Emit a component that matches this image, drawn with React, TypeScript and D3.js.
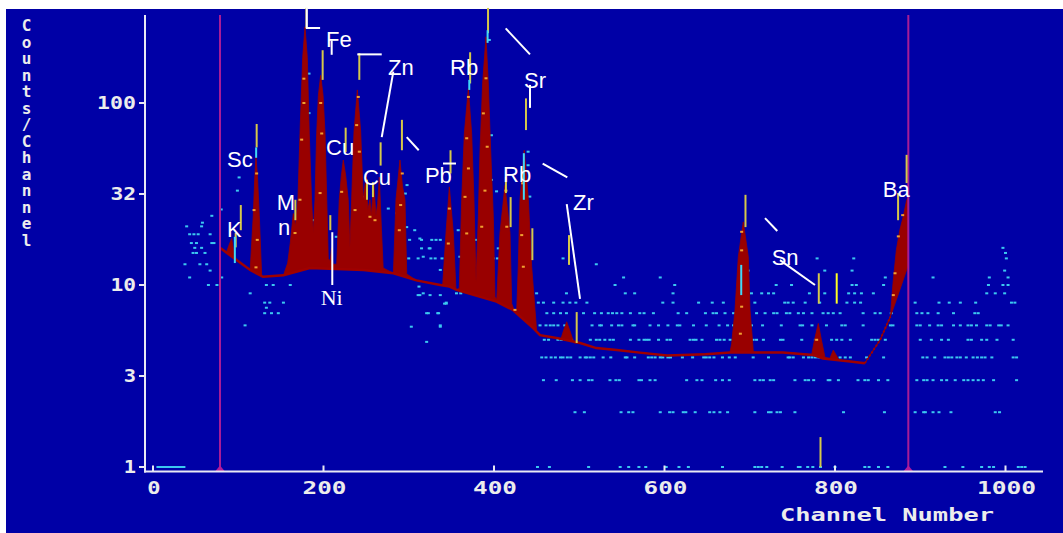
import React from 'react';
import * as d3 from 'd3';

type P = [number, number];

// ---------- axes ----------
const xTickValues = [0, 200, 400, 600, 800, 1000];
const xTickLabels = ['0', '200', '400', '600', '800', '1000'];
const yTickValues = [1, 3.1623, 10, 31.623, 100];
const yTickLabels = ['1', '3', '10', '32', '100'];
const yTitle = 'Counts/Channel';
const xTitle = 'Channel Number';

// ---------- region of interest markers (channels) ----------
const roiChannels = [78.6, 886];

// ---------- fitted spectrum (channel, counts) ----------
const spectrumTop: P[] = [
  [78.6, 16.0], [86, 15.0], [89, 16.5], [92.3, 18.0], [95, 15.0], [98, 13.7],
  [114, 12.1], [117.6, 24], [119.5, 40], [120.8, 50.7], [122.5, 40], [124.7, 24], [127.5, 11.2],
  [129, 11.1], [153, 11.3], [158, 13.2], [161, 17], [164.6, 24.7], [167, 21], [170, 29.4],
  [172.4, 68], [175.6, 178], [178.3, 262], [181, 178], [183.3, 68], [186, 29.4], [188, 19.3],
  [190, 29.4], [192, 68], [194, 110], [196.7, 142], [199.5, 110], [201.8, 68], [203.8, 29.4],
  [205.6, 14], [208, 13.5], [209.5, 16], [211, 13], [215.5, 13], [218.5, 29.4], [221, 40],
  [223.2, 48.6], [226, 40], [229, 29.4], [231, 16], [233, 29.4], [235.8, 70], [239.7, 118],
  [243.6, 70], [246.7, 29.4], [249.9, 39.2], [252, 26], [254.5, 29.4], [256, 24], [259, 36.3],
  [261.5, 24], [263.5, 28], [265.5, 39.2], [268, 20], [270, 12.4], [282, 11.6], [285, 29.4],
  [289.7, 48.6], [292.6, 35], [295.6, 29.4], [297.6, 11.5], [309, 10.6], [337, 10.0],
  [339.8, 10.0], [343.7, 19.3], [347.6, 34.6], [352.3, 19.3], [355.4, 9.4], [359.3, 9.6],
  [362.1, 29.4], [365.2, 68], [369.9, 120], [373.8, 68], [376.5, 29.4], [378.9, 10.5],
  [381.6, 23.7], [383.6, 55], [386.7, 129], [390.6, 231], [393.3, 129], [396.1, 55],
  [399.2, 23.7], [401.2, 8.6], [403.2, 8.3], [407, 19.3], [412.9, 35.3], [418.8, 19.3],
  [420.8, 7.9], [424, 7.2], [426.6, 7.2], [428.5, 12.6], [430.5, 29.4], [435.5, 55],
  [440.3, 29.4], [444.2, 12.6], [450, 5.6], [454, 5.3], [475, 5.1], [478.2, 5.0], [481.5, 5.6],
  [485.3, 6.28], [489, 5.6], [493.8, 4.8], [501, 4.8], [520, 4.5], [544, 4.4], [571, 4.25],
  [603, 4.1], [648, 4.17], [676.8, 4.26], [678.8, 4.77], [682.7, 7.3], [686.6, 14.3],
  [692.4, 22.2], [698.3, 14.3], [700.3, 7.3], [703.5, 4.77], [704.2, 4.26], [739, 4.26],
  [772.7, 4.15], [776, 5.0], [780.4, 6.15], [784, 5.0], [788.3, 4.0], [794, 3.95], [798, 4.39],
  [805, 3.85], [818, 3.8], [835, 3.72], [853, 5.0], [865, 6.7], [868, 10.2], [872, 15.6],
  [876, 20], [880, 23.7], [884, 29.2], [886, 30.5],
];

// ---------- continuum background (channel, counts) ----------
const background: P[] = [
  [78.6, 16.0], [98, 13.7], [114, 12.1], [129, 11.1], [153, 11.3], [184, 12.4], [247, 12.1],
  [282, 11.6], [309, 10.6], [337, 10.0], [348, 9.8], [356, 9.4], [403, 8.1], [422, 7.3],
  [446, 5.8], [454, 5.3], [475, 5.1], [501, 4.8], [520, 4.5], [544, 4.4], [571, 4.25],
  [603, 4.1], [648, 4.17], [677, 4.26], [739, 4.26], [774, 4.13], [786, 3.95], [818, 3.8],
  [835, 3.72], [853, 5.0], [865, 6.7], [876, 9.4], [886, 12.9],
];

// ---------- raw counts: channels per count level ----------
const row1 = [451, 465, 511, 548, 558, 570, 578, 602, 617, 628, 668, 706, 710, 714, 720, 738, 757, 759, 768, 774, 783, 800, 835, 840, 851, 862, 929, 950, 972, 981, 986, 1015, 1019, 1023];
const row2 = [495, 506, 549, 558, 563, 595, 606, 610, 622, 625, 636, 653, 658, 665, 674, 706, 722, 725, 732, 736, 753, 810, 858, 894, 904, 906, 915, 922, 936, 988, 993];
const row3 = [458, 473, 492, 501, 511, 515, 536, 543, 547, 570, 573, 583, 589, 626, 638, 644, 660, 668, 676, 706, 712, 716, 724, 728, 753, 765, 769, 775, 792, 794, 804, 827, 835, 839, 851, 862, 896, 904, 908, 915, 925, 931, 941, 951, 956, 962, 968, 974, 986, 1013];
const row4 = [456, 461, 467, 472, 478, 481, 486, 490, 501, 507, 509, 513, 517, 528, 537, 554, 556, 565, 581, 585, 589, 595, 598, 604, 607, 621, 633, 646, 649, 653, 658, 668, 676, 683, 704, 722, 745, 747, 751, 763, 769, 773, 777, 781, 806, 812, 818, 837, 857, 903, 908, 917, 929, 933, 937, 943, 947, 954, 962, 967, 972, 976, 984, 1009, 1013];
const row5 = [459, 464, 475, 479, 484, 491, 513, 520, 524, 530, 536, 540, 560, 570, 576, 579, 582, 593, 603, 607, 630, 634, 637, 644, 661, 665, 670, 677, 685, 704, 708, 716, 736, 739, 761, 777, 796, 802, 808, 818, 843, 847, 851, 859, 900, 913, 925, 933, 956, 960, 972, 978, 990, 1009];
const row6 = [337, 454, 461, 466, 470, 475, 483, 515, 524, 526, 538, 546, 550, 563, 565, 583, 593, 604, 615, 618, 634, 649, 664, 674, 681, 702, 715, 737, 759, 762, 773, 790, 808, 812, 833, 865, 868, 896, 900, 911, 921, 925, 939, 947, 956, 960, 966, 978, 982, 992, 995, 1003];
const row7 = [462, 470, 478, 485, 505, 518, 526, 534, 539, 544, 550, 560, 571, 576, 587, 616, 626, 648, 657, 661, 671, 681, 708, 718, 728, 732, 743, 747, 757, 763, 773, 786, 792, 798, 806, 833, 847, 853, 866, 896, 902, 909, 921, 939, 964, 968];
const row8 = [344, 452, 458, 470, 481, 489, 496, 509, 598, 610, 640, 656, 669, 706, 741, 745, 751, 765, 782, 814, 823, 830, 894, 922, 934, 947, 965, 1007, 1011];
const row9 = [356, 361, 450, 485, 554, 565, 610, 702, 714, 722, 728, 770, 788, 816, 823, 831, 845, 978, 988, 999];
const row10 = [542, 612, 731, 749, 820, 825, 857, 980, 997, 1003];
const row11 = [552, 595, 859, 915, 981, 1003];
const row12 = [698, 788, 820, 999];
const row13 = [520];
const row14 = [481, 779, 822, 1001];
const row15 = [1000];
const row16 = [997];
const countRows: [number, number[]][] = [
  [1, row1], [2, row2], [3, row3], [4, row4], [5, row5], [6, row6], [7, row7], [8, row8],
  [9, row9], [10, row10], [11, row11], [12, row12], [13, row13], [14, row14], [15, row15], [16, row16],
];
// run of channels all at one count near zero channel
const lowRun: [number, number, number] = [4, 38, 1];

// scattered raw counts (channel, counts)
const scatterCyan: P[] = [
  [39.5, 21], [57, 21], [69, 24], [43, 19], [48, 19], [53, 19], [67, 19], [45, 17], [51, 17], [69, 17],
  [49, 16], [57, 16], [47, 15], [51, 15], [61, 15], [37.5, 13], [55, 13], [63, 13], [43, 11], [67, 12],
  [65, 10], [75, 10], [80.6, 11], [108, 6], [114, 9], [131, 8], [137, 8], [131, 7], [139, 7], [147, 7],
  [153, 8], [133, 10], [141, 10], [99, 33], [58, 22], [80, 26], [71.5, 17], [101, 39], [161, 10],
  [183, 145], [183, 88], [188, 22.7], [215, 18.4], [247, 30.5], [276, 26.3], [286, 24.8], [296, 31.8],
  [298, 35.4], [307, 20], [313, 18], [324, 15.9], [317, 14.3], [312, 9.8], [317, 9], [323, 7], [334, 7],
  [344, 7.9], [133, 7.5], [394.5, 222], [397, 66.5], [440, 54], [440, 45.5], [442, 30.6],
  [397, 37.8], [403, 32.7], [297.6, 20.8], [301, 17.7], [315, 17.7], [327, 17.7], [332, 17.7],
  [337, 17.7], [315, 15.9], [325, 15.9], [300, 14], [311, 14], [326, 14], [331, 14], [339, 14],
  [337, 12.1], [378, 17.7], [383, 15.9], [358, 20], [360, 14.3], [405, 15.9], [399, 14], [404, 14],
  [303, 5.9], [321, 7], [335, 7], [313, 8.8], [325, 8.8], [337, 8.8], [321, 4.87], [337, 5.9],
  [311, 8.8], [342, 7.9],
];
const scatterOnPeaks: P[] = [
  [121.6, 41], [118.5, 25.8], [122.3, 17.7], [120.8, 12.5], [177, 136], [177, 100], [174.4, 62.9],
  [172.4, 29.4], [166.6, 19.3], [196.7, 100], [197.9, 68], [196, 32], [221.3, 32.5], [240.8, 108],
  [238.9, 75.6], [242, 54], [237, 25.8], [254.5, 23.7], [260.4, 22.7], [292.4, 41], [290.5, 27.5],
  [288.9, 20], [347.6, 26.3], [346.4, 16.9], [370, 108], [368, 64], [370, 43.7], [366, 30.5],
  [368, 19.2], [390.6, 136.7], [387.5, 87.7], [392, 57.5], [389.4, 33], [385.6, 20.9], [414, 33],
  [415, 20.9], [433.6, 36.2], [432.5, 18.8], [434.4, 12.6], [424.6, 7.3], [690.5, 19.6],
  [690.5, 15.5], [690.5, 7.6], [689, 5.4], [778.5, 5.0], [874.3, 18.5], [870.4, 11.6],
  [868.4, 8.8], [879.4, 24.2],
];

// ---------- peak markers: channel, low count, high count ----------
const yellowMarkers: [number, number, number][] = [
  [180, 258, 333], [199, 134, 195], [242, 134, 188], [121.6, 57, 76.7], [226, 53.7, 73.2],
  [267, 45.3, 60.8], [292, 55, 80.8], [167, 22.7, 29.4], [103, 20, 27.5], [208, 20, 24.2],
  [393, 242, 333], [372, 128, 190], [437.5, 71, 106], [349, 41, 55], [414, 32, 39.2],
  [419.5, 20.8, 30.4], [445, 13.7, 20.5], [488, 12.9, 18.8], [497, 4.8, 7.1], [695, 20.8, 31.3],
  [781, 7.9, 11.6], [783, 1.0, 1.46], [884, 36.3, 51.9], [874, 22.7, 32], [251, 29.4, 37.9],
  [258, 30.4, 36.7], [97, 16.1, 19.3],
];
const brightMarkers: [number, number, number][] = [[802, 7.9, 11.6]];
const cyanMarkers: [number, number, number][] = [
  [96, 13.2, 18.4], [392.5, 214, 251], [371, 118, 134], [435, 29.4, 53], [690, 8.8, 12.9],
  [121, 50, 57],
];

// ---------- element labels (channel, counts at text baseline) ----------
const labelText = ['Fe', 'Zn', 'Sc', 'Cu', 'Cu', 'M', 'n', 'K', 'Pb', 'Rb', 'Sr', 'Rb', 'Zr', 'Sn', 'Ba'];
const labelCh = [203, 275.7, 86.8, 203, 246.3, 145.1, 146.6, 86.8, 319, 348.4, 435.2, 410.6, 492.7, 725.7, 856];
const labelCount = [202, 142, 44.6, 51.6, 35.5, 25.8, 18.8, 18.4, 36.3, 142, 121, 36.7, 25.8, 12.9, 30.5];
const serifLabel = { text: 'Ni', ch: 196.7, count: 7.77 };

// ---------- leader lines (polylines in channel/count space) ----------
const leaders: P[][] = [
  [[180.4, 333], [180.4, 258], [196, 258]],
  [[209.6, 221], [209.6, 184]],
  [[239.6, 185], [268.3, 185]],
  [[281.9, 148.6], [268.3, 65]],
  [[297.6, 65], [311.7, 55]],
  [[210.3, 19.5], [210.3, 10]],
  [[340.2, 46.5], [355.4, 46.5]],
  [[413.7, 257], [442.2, 185]],
  [[442.2, 125.7], [442.2, 94]],
  [[457.1, 46.5], [486, 39]],
  [[485.3, 27.8], [500.9, 8.4]],
  [[717.9, 23.3], [732.3, 19.8]],
  [[735.5, 13.7], [776.5, 10]],
];

const BLUE = '#0000a6';
const RED = '#990000';
const CYAN = '#3cc8f0';
const MONO = '"DejaVu Sans Mono", "Liberation Mono", monospace';

export default function App() {
  const x = d3.scaleLinear().domain([0, 1000]).range([153, 1005.5]);
  const y = d3.scaleLog().domain([1, 100]).range([467, 103]);
  const line = d3.line<P>().x(d => x(d[0])).y(d => y(d[1]));

  const fillPath =
    (line(spectrumTop) as string) +
    'L' +
    background.slice().reverse().map(d => `${x(d[0])},${y(d[1])}`).join('L') +
    'Z';
  const bgSolid = line(background.filter(d => d[0] <= 835)) as string;
  const bgDotted = line(background.filter(d => d[0] >= 835 && d[0] <= 865)) as string;

  const axisX0 = 145;
  const axisY = 471.5;
  const axisTop = 15;
  const axisRight = 1043;

  const dot = (cx: number, cy: number, fill: string, key: string) => (
    <rect key={key} x={cx - 1.5} y={cy - 1} width={3} height={2} fill={fill} />
  );

  return (
    <svg width={1063} height={533} style={{ position: 'absolute', left: 0, top: 0, display: 'block' }}>
      <rect x={0} y={0} width={1063} height={533} fill="#ffffff" />
      <rect x={6} y={9} width={1057} height={524} fill={BLUE} />

      {/* raw count rows */}
      {countRows.map(([c, chs]) => chs.map((ch, i) => dot(x(ch), y(c), CYAN, `r${c}-${i}`)))}
      <line x1={x(lowRun[0])} x2={x(lowRun[1])} y1={y(lowRun[2])} y2={y(lowRun[2])} stroke={CYAN} strokeWidth={2} />
      {scatterCyan.map((d, i) => dot(x(d[0]), y(d[1]), CYAN, `sc${i}`))}

      {/* fitted spectrum */}
      <path d={fillPath} fill={RED} stroke={RED} strokeWidth={0.8} />
      <path d={bgSolid} fill="none" stroke="#a00000" strokeWidth={2.5} />
      <path d={bgDotted} fill="none" stroke="#a00000" strokeWidth={2} strokeDasharray="2,2" />
      {scatterOnPeaks.map((d, i) => dot(x(d[0]), y(d[1]), '#f0a030', `so${i}`))}

      {/* ROI lines */}
      {roiChannels.map((c, i) => (
        <g key={`roi${i}`}>
          <line x1={x(c)} x2={x(c)} y1={axisTop} y2={axisY} stroke="#a81c96" strokeWidth={2} />
          <path d={`M${x(c) - 5},${axisY}L${x(c)},${axisY - 6}L${x(c) + 5},${axisY}Z`} fill="#b01c9c" />
        </g>
      ))}

      {/* markers */}
      {yellowMarkers.map((m, i) => (
        <line key={`ym${i}`} x1={x(m[0])} x2={x(m[0])} y1={y(m[1])} y2={y(m[2])} stroke="#d6c84a" strokeWidth={2} />
      ))}
      {brightMarkers.map((m, i) => (
        <line key={`bm${i}`} x1={x(m[0])} x2={x(m[0])} y1={y(m[1])} y2={y(m[2])} stroke="#ffff20" strokeWidth={2} />
      ))}
      {cyanMarkers.map((m, i) => (
        <line key={`cm${i}`} x1={x(m[0])} x2={x(m[0])} y1={y(m[1])} y2={y(m[2])} stroke="#40d8f8" strokeWidth={2} />
      ))}

      {/* leaders and labels */}
      {leaders.map((pts, i) => (
        <path key={`ld${i}`} d={line(pts) as string} fill="none" stroke="#ffffff" strokeWidth={2} />
      ))}
      {labelText.map((t, i) => (
        <text key={`lb${i}`} x={x(labelCh[i])} y={y(labelCount[i])} fill="#ffffff"
          fontFamily='"Liberation Sans", Arial, sans-serif' fontSize={22}>{t}</text>
      ))}
      <text x={x(serifLabel.ch)} y={y(serifLabel.count)} fill="#ffffff"
        fontFamily='"Liberation Serif", "Times New Roman", serif' fontSize={22}>{serifLabel.text}</text>

      {/* axes */}
      <line x1={axisX0} x2={axisX0} y1={axisTop} y2={axisY + 1} stroke="#e8e8f4" strokeWidth={2} />
      <line x1={axisX0 - 1} x2={axisRight} y1={axisY} y2={axisY} stroke="#e8e8f4" strokeWidth={2} />
      {yTickValues.map((v, i) => {
        const w = yTickLabels[i].length * 13.3;
        return (
          <g key={`yt${i}`}>
            <line x1={axisX0 - 6} x2={axisX0} y1={y(v)} y2={y(v)} stroke="#e8e8f4" strokeWidth={2} />
            <text x={137 - w} y={y(v) + 6} fill="#ececec" fontFamily={MONO} fontWeight="bold" fontSize={17}
              textLength={w - 1} lengthAdjust="spacingAndGlyphs">{yTickLabels[i]}</text>
          </g>
        );
      })}
      {xTickValues.map((v, i) => {
        const w = xTickLabels[i].length * 15.3;
        return (
          <g key={`xt${i}`}>
            <line x1={x(v)} x2={x(v)} y1={axisY} y2={axisY - 6} stroke="#e8e8f4" strokeWidth={2} />
            <text x={x(v) + 2 - w / 2} y={494} fill="#ececec" fontFamily={MONO} fontWeight="bold" fontSize={17}
              textLength={w - 2} lengthAdjust="spacingAndGlyphs">{xTickLabels[i]}</text>
          </g>
        );
      })}
      <text x={780} y={521} fill="#ececec" fontFamily={MONO} fontWeight="bold" fontSize={18}
        textLength={214} lengthAdjust="spacingAndGlyphs">{xTitle}</text>
      <text x={26.5} y={16} fill="#ececec" fontFamily={MONO} fontWeight="bold" fontSize={16}
        style={{ writingMode: 'vertical-rl', textOrientation: 'upright' } as any}
        textLength={234} lengthAdjust="spacing">{yTitle}</text>
    </svg>
  );
}
